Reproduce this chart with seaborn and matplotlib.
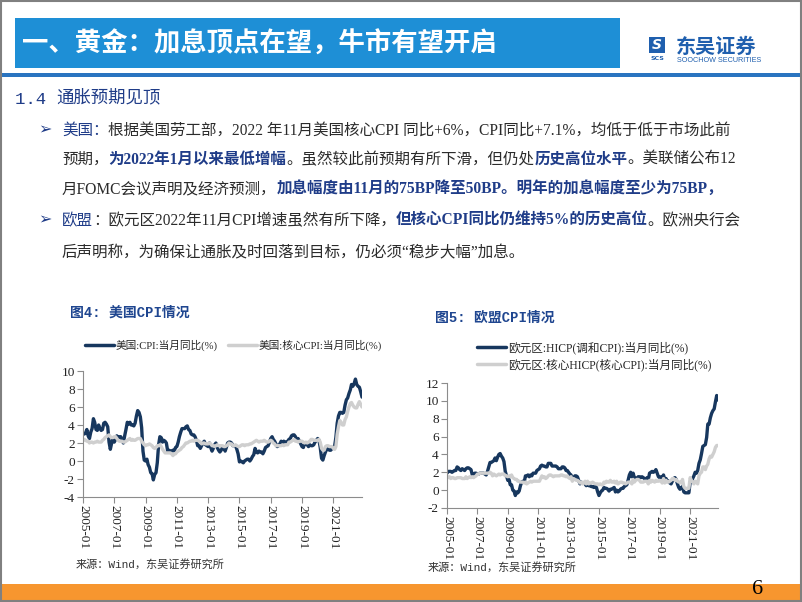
import pandas as pd
import matplotlib
matplotlib.use('Agg')
import matplotlib.pyplot as plt
import matplotlib.dates as mdates
from matplotlib.patches import Rectangle
from matplotlib.lines import Line2D
import seaborn as sns

# ==================== DATA (monthly, 2005-01 .. 2022-11) ====================

us_cpi = [
    3.0, 3.0, 3.1, 3.5, 2.8, 2.5, 3.2, 3.6, 4.7, 4.3, 3.5, 3.4,    # 2005
    4.0, 3.6, 3.4, 3.5, 4.2, 4.3, 4.1, 3.8, 2.1, 1.3, 2.0, 2.5,    # 2006
    2.1, 2.4, 2.8, 2.6, 2.7, 2.7, 2.4, 2.0, 2.8, 3.5, 4.3, 4.1,    # 2007
    4.3, 4.0, 4.0, 3.9, 4.2, 5.0, 5.6, 5.4, 4.9, 3.7, 1.1, 0.1,    # 2008
    0.0, 0.2, -0.4, -0.7, -1.3, -1.4, -2.1, -1.5, -1.3, -0.2, 1.8, 2.7,  # 2009
    2.6, 2.1, 2.3, 2.2, 2.0, 1.1, 1.2, 1.1, 1.1, 1.2, 1.1, 1.5,    # 2010
    1.6, 2.1, 2.7, 3.2, 3.6, 3.6, 3.6, 3.8, 3.9, 3.5, 3.4, 3.0,    # 2011
    2.9, 2.9, 2.7, 2.3, 1.7, 1.7, 1.4, 1.7, 2.0, 2.2, 1.8, 1.7,    # 2012
    1.6, 2.0, 1.5, 1.1, 1.4, 1.8, 2.0, 1.5, 1.2, 1.0, 1.2, 1.5,    # 2013
    1.6, 1.1, 1.5, 2.0, 2.1, 2.1, 2.0, 1.7, 1.7, 1.7, 1.3, 0.8,    # 2014
    -0.1, 0.0, -0.1, -0.2, 0.0, 0.1, 0.2, 0.2, 0.0, 0.2, 0.5, 0.7,  # 2015
    1.4, 1.0, 0.9, 1.1, 1.0, 1.0, 0.8, 1.1, 1.5, 1.6, 1.7, 2.1,    # 2016
    2.5, 2.7, 2.4, 2.2, 1.9, 1.6, 1.7, 1.9, 2.2, 2.0, 2.2, 2.1,    # 2017
    2.1, 2.2, 2.4, 2.5, 2.8, 2.9, 2.9, 2.7, 2.3, 2.5, 2.2, 1.9,    # 2018
    1.6, 1.5, 1.9, 2.0, 1.8, 1.6, 1.8, 1.7, 1.7, 1.8, 2.1, 2.3,    # 2019
    2.5, 2.3, 1.5, 0.3, 0.1, 0.6, 1.0, 1.3, 1.4, 1.2, 1.2, 1.4,    # 2020
    1.4, 1.7, 2.6, 4.2, 5.0, 5.4, 5.4, 5.3, 5.4, 6.2, 6.8, 7.0,    # 2021
    7.5, 7.9, 8.5, 8.3, 8.6, 9.1, 8.5, 8.3, 8.2, 7.7, 7.1,         # 2022
]

us_core_cpi = [
    2.3, 2.4, 2.3, 2.2, 2.2, 2.0, 2.1, 2.1, 2.0, 2.1, 2.1, 2.2,    # 2005
    2.1, 2.1, 2.1, 2.3, 2.4, 2.6, 2.7, 2.8, 2.9, 2.7, 2.6, 2.6,    # 2006
    2.7, 2.7, 2.5, 2.3, 2.2, 2.2, 2.2, 2.1, 2.1, 2.2, 2.3, 2.4,    # 2007
    2.5, 2.3, 2.4, 2.3, 2.3, 2.4, 2.5, 2.5, 2.5, 2.2, 2.0, 1.8,    # 2008
    1.7, 1.8, 1.8, 1.9, 1.8, 1.7, 1.5, 1.4, 1.5, 1.7, 1.7, 1.8,    # 2009
    1.6, 1.3, 1.1, 0.9, 0.9, 0.9, 0.9, 0.9, 0.8, 0.6, 0.8, 0.8,    # 2010
    1.0, 1.1, 1.2, 1.3, 1.5, 1.6, 1.8, 2.0, 2.0, 2.1, 2.2, 2.2,    # 2011
    2.3, 2.2, 2.3, 2.3, 2.3, 2.2, 2.1, 1.9, 2.0, 2.0, 1.9, 1.9,    # 2012
    1.9, 2.0, 1.9, 1.7, 1.7, 1.6, 1.7, 1.8, 1.7, 1.7, 1.7, 1.7,    # 2013
    1.6, 1.6, 1.7, 1.8, 2.0, 1.9, 1.9, 1.7, 1.7, 1.8, 1.7, 1.6,    # 2014
    1.6, 1.7, 1.8, 1.8, 1.7, 1.8, 1.8, 1.8, 1.9, 1.9, 2.0, 2.1,    # 2015
    2.2, 2.3, 2.2, 2.1, 2.2, 2.2, 2.2, 2.3, 2.2, 2.1, 2.1, 2.2,    # 2016
    2.3, 2.2, 2.0, 1.9, 1.7, 1.7, 1.7, 1.7, 1.7, 1.8, 1.7, 1.8,    # 2017
    1.8, 1.8, 2.1, 2.1, 2.2, 2.3, 2.4, 2.2, 2.2, 2.1, 2.2, 2.2,    # 2018
    2.2, 2.1, 2.0, 2.1, 2.0, 2.1, 2.2, 2.4, 2.4, 2.3, 2.3, 2.3,    # 2019
    2.3, 2.4, 2.1, 1.4, 1.2, 1.2, 1.6, 1.7, 1.7, 1.6, 1.6, 1.6,    # 2020
    1.4, 1.3, 1.6, 3.0, 3.8, 4.5, 4.3, 4.0, 4.0, 4.6, 4.9, 5.5,    # 2021
    6.0, 6.4, 6.5, 6.2, 6.0, 5.9, 5.9, 6.3, 6.6, 6.3, 6.0,         # 2022
]

ez_hicp = [
    1.9, 2.1, 2.1, 2.1, 2.0, 2.1, 2.2, 2.2, 2.6, 2.5, 2.3, 2.2,    # 2005
    2.4, 2.3, 2.2, 2.4, 2.5, 2.5, 2.4, 2.3, 1.7, 1.6, 1.9, 1.9,    # 2006
    1.8, 1.8, 1.9, 1.9, 1.9, 1.9, 1.8, 1.7, 2.1, 2.6, 3.1, 3.1,    # 2007
    3.2, 3.3, 3.6, 3.3, 3.7, 4.0, 4.1, 3.8, 3.6, 3.2, 2.1, 1.6,    # 2008
    1.1, 1.2, 0.6, 0.6, 0.0, -0.1, -0.6, -0.2, -0.3, -0.1, 0.5, 0.9,  # 2009
    1.0, 0.9, 1.6, 1.6, 1.7, 1.5, 1.7, 1.6, 1.9, 1.9, 1.9, 2.2,    # 2010
    2.3, 2.4, 2.7, 2.8, 2.7, 2.7, 2.6, 2.6, 3.0, 3.0, 3.0, 2.7,    # 2011
    2.7, 2.7, 2.7, 2.6, 2.4, 2.4, 2.4, 2.6, 2.6, 2.5, 2.2, 2.2,    # 2012
    2.0, 1.8, 1.7, 1.2, 1.4, 1.6, 1.6, 1.5, 1.1, 0.7, 0.9, 0.8,    # 2013
    0.8, 0.7, 0.5, 0.7, 0.5, 0.5, 0.4, 0.4, 0.3, 0.4, 0.3, -0.2,   # 2014
    -0.6, -0.3, -0.1, 0.0, 0.3, 0.2, 0.2, 0.1, -0.1, 0.1, 0.1, 0.2,  # 2015
    0.3, -0.2, 0.0, -0.2, -0.1, 0.1, 0.2, 0.2, 0.4, 0.5, 0.6, 1.1,  # 2016
    1.7, 2.0, 1.5, 1.9, 1.4, 1.3, 1.3, 1.5, 1.5, 1.4, 1.5, 1.4,    # 2017
    1.3, 1.1, 1.4, 1.2, 1.9, 2.0, 2.1, 2.0, 2.1, 2.3, 1.9, 1.5,    # 2018
    1.4, 1.5, 1.4, 1.7, 1.2, 1.3, 1.0, 1.0, 0.8, 0.7, 1.0, 1.3,    # 2019
    1.4, 1.2, 0.7, 0.3, 0.1, 0.3, 0.4, -0.2, -0.3, -0.3, -0.3, -0.3,  # 2020
    0.9, 0.9, 1.3, 1.6, 2.0, 1.9, 2.2, 3.0, 3.4, 4.1, 4.9, 5.0,    # 2021
    5.1, 5.9, 7.4, 7.4, 8.1, 8.6, 8.9, 9.1, 9.9, 10.6, 10.1,       # 2022
]

ez_core_hicp = [
    1.5, 1.4, 1.5, 1.3, 1.4, 1.4, 1.3, 1.3, 1.4, 1.4, 1.4, 1.4,    # 2005
    1.3, 1.3, 1.3, 1.5, 1.3, 1.4, 1.5, 1.4, 1.5, 1.4, 1.5, 1.6,    # 2006
    1.8, 1.8, 1.9, 1.9, 1.9, 1.9, 1.9, 1.9, 1.9, 1.9, 2.0, 1.9,    # 2007
    1.6, 1.8, 1.7, 1.6, 1.7, 1.8, 1.7, 1.8, 1.8, 1.8, 1.6, 1.6,    # 2008
    1.5, 1.6, 1.5, 1.7, 1.4, 1.3, 1.2, 1.2, 1.0, 1.0, 0.9, 0.9,    # 2009
    0.9, 0.8, 0.9, 0.7, 0.8, 0.9, 1.0, 0.9, 1.0, 1.0, 1.0, 1.0,    # 2010
    1.0, 1.0, 1.3, 1.6, 1.4, 1.5, 1.3, 1.4, 1.6, 1.7, 1.7, 1.6,    # 2011
    1.5, 1.6, 1.6, 1.6, 1.6, 1.6, 1.7, 1.7, 1.6, 1.6, 1.5, 1.6,    # 2012
    1.4, 1.3, 1.5, 1.0, 1.3, 1.2, 1.1, 1.1, 1.0, 0.8, 0.9, 0.7,    # 2013
    0.8, 1.0, 0.7, 1.0, 0.7, 0.8, 0.8, 0.9, 0.8, 0.7, 0.7, 0.7,    # 2014
    0.6, 0.7, 0.6, 0.6, 0.9, 0.8, 1.0, 0.9, 0.9, 1.1, 0.9, 0.9,    # 2015
    1.0, 0.8, 1.0, 0.7, 0.8, 0.9, 0.9, 0.8, 0.8, 0.7, 0.8, 0.9,    # 2016
    0.9, 0.9, 0.7, 1.2, 0.9, 1.1, 1.2, 1.2, 1.1, 0.9, 0.9, 0.9,    # 2017
    1.0, 1.0, 1.0, 0.7, 1.1, 0.9, 1.1, 1.0, 0.9, 1.1, 1.0, 1.0,    # 2018
    1.1, 1.0, 0.8, 1.3, 0.8, 1.1, 0.9, 0.9, 1.0, 1.1, 1.3, 1.3,    # 2019
    1.1, 1.2, 1.0, 0.9, 0.9, 0.8, 1.2, 0.4, 0.2, 0.2, 0.2, 0.2,    # 2020
    1.4, 1.1, 0.9, 0.7, 1.0, 0.9, 0.7, 1.6, 1.9, 2.0, 2.6, 2.6,    # 2021
    2.3, 2.7, 2.9, 3.5, 3.8, 3.7, 4.0, 4.3, 4.8, 5.0, 5.0,         # 2022
]

dates = pd.date_range('2005-01-01', periods=len(us_cpi), freq='MS')
tick_years = list(range(2005, 2022, 2))
us_yticks = [-4, -2, 0, 2, 4, 6, 8, 10]
ez_yticks = [-2, 0, 2, 4, 6, 8, 10, 12]

us_labels = ['美国:CPI:当月同比(%)', '美国:核心CPI:当月同比(%)']
ez_labels = ['欧元区:HICP(调和CPI):当月同比(%)', '欧元区:核心HICP(核心CPI):当月同比(%)']

page_title = '一、黄金：加息顶点在望，牛市有望开启'
section_no = '1.4 '
section_title = '通胀预期见顶'
source_text = '来源：Wind，东吴证券研究所'

# ==================== STYLE ====================

NAVY = '#17375E'
LIGHT = '#CFCFCF'
HEADER_BLUE = '#1E8FD6'
LOGO_BLUE = '#1F5FAE'
TEXT_BLUE = '#1F3C88'
TEXT_DARK = '#2B2B2B'
ORANGE = '#F7962F'

sns.set_theme(style='white')
plt.rcParams['font.family'] = ['Liberation Serif', 'Noto Sans CJK SC']
plt.rcParams['axes.unicode_minus'] = False

W, H = 802, 602
fig = plt.figure(figsize=(W / 100, H / 100), dpi=100)

# background axes in pixel coordinates for the slide decoration
bg = fig.add_axes([0, 0, 1, 1], zorder=0)
bg.set_xlim(0, W)
bg.set_ylim(H, 0)
bg.axis('off')

# header
bg.add_patch(Rectangle((15, 18), 605, 50, color=HEADER_BLUE, lw=0))
bg.text(22, 44, page_title, fontsize=19, weight='bold', color='white',
        va='center', family=['Noto Sans CJK SC'])
bg.add_patch(Rectangle((0, 73), W, 4, color='#2A74C0', lw=0))

# logo
bg.add_patch(Rectangle((649, 37), 16, 16, color=LOGO_BLUE, lw=0))
bg.text(657, 45, 'S', fontsize=10, weight='bold', style='italic', color='white',
        ha='center', va='center', family=['DejaVu Sans'])
bg.text(657, 59, 'SCS', fontsize=4.5, weight='bold', color=LOGO_BLUE,
        ha='center', va='center', family=['DejaVu Sans'])
bg.text(676, 46, '东吴证券', fontsize=14.5, weight='bold', color=LOGO_BLUE,
        va='center', family=['Noto Sans CJK SC'])
bg.text(677, 60.5, 'SOOCHOW SECURITIES', fontsize=5.2, color=LOGO_BLUE,
        va='center', family=['Liberation Sans'])

# section heading
t = bg.text(15, 99, section_no, fontsize=12.5, color=TEXT_BLUE, va='center',
            family=['Liberation Mono'])
bg.annotate(section_title, xy=(1, 0), xycoords=t, va='bottom', fontsize=12.5,
            color=TEXT_BLUE, family=['Noto Sans CJK SC'])


def draw_runs(x, y, runs, size=11.2):
    """Draw a line of text made of differently styled pieces."""
    text, color, bold = runs[0]
    t = bg.text(x, y, text, fontsize=size, color=color,
                weight='bold' if bold else 'normal', va='center')
    for text, color, bold in runs[1:]:
        t = bg.annotate(text, xy=(1, 0), xycoords=t, va='bottom',
                        fontsize=size, color=color,
                        weight='bold' if bold else 'normal')


body = [
    (131, [('美国：', TEXT_BLUE, False),
           ('根据美国劳工部，2022 年11月美国核心CPI 同比+6%，CPI同比+7.1%，均低于低于市场此前', TEXT_DARK, False)]),
    (160, [('预期，', TEXT_DARK, False),
           ('为2022年1月以来最低增幅', TEXT_BLUE, True),
           ('。虽然较此前预期有所下滑，但仍处', TEXT_DARK, False),
           ('历史高位水平', TEXT_BLUE, True),
           ('。美联储公布12', TEXT_DARK, False)]),
    (189, [('月FOMC会议声明及经济预测，', TEXT_DARK, False),
           ('加息幅度由11月的75BP降至50BP。明年的加息幅度至少为75BP，', TEXT_BLUE, True)]),
    (221, [('欧盟', TEXT_BLUE, False),
           ('：欧元区2022年11月CPI增速虽然有所下降，', TEXT_DARK, False),
           ('但核心CPI同比仍维持5%的历史高位', TEXT_BLUE, True),
           ('。欧洲央行会', TEXT_DARK, False)]),
    (253, [('后声明称，为确保让通胀及时回落到目标，仍必须“稳步大幅”加息。', TEXT_DARK, False)]),
]
for y, runs in body:
    draw_runs(62, y, runs)
for y in (130, 220):
    bg.text(38, y, '➢', fontsize=11.5, color=TEXT_BLUE, va='center',
            family=['DejaVu Sans'])

# chart titles and sources
bg.text(70, 313, '图4: 美国CPI情况', fontsize=10, weight='bold', color='#1F4690',
        va='center', family=['Liberation Mono', 'Noto Sans CJK SC'])
bg.text(435, 318, '图5: 欧盟CPI情况', fontsize=10, weight='bold', color='#1F4690',
        va='center', family=['Liberation Mono', 'Noto Sans CJK SC'])
bg.text(76, 564, source_text, fontsize=8, color='#333333', va='center',
        family=['Liberation Mono', 'Noto Sans CJK SC'])
bg.text(428, 567, source_text, fontsize=8, color='#333333', va='center',
        family=['Liberation Mono', 'Noto Sans CJK SC'])

# footer
bg.add_patch(Rectangle((0, 584), W, 18, color=ORANGE, lw=0))
bg.text(758, 590, '6', fontsize=16, color='black', ha='center', va='center')
bg.add_patch(Rectangle((0.75, 0.75), W - 1.5, H - 1.5, fill=False,
                       edgecolor='#808080', lw=1.5))

# ==================== CHARTS ====================


def px_axes(x0, x1, y0, y1):
    return fig.add_axes([x0 / W, 1 - y1 / H, (x1 - x0) / W, (y1 - y0) / H], zorder=1)


def draw_chart(ax, main, core, yticks):
    sns.lineplot(x=dates, y=main, ax=ax, color=NAVY, linewidth=2.4)
    sns.lineplot(x=dates, y=core, ax=ax, color=LIGHT, linewidth=2.4)
    ax.set_ylim(yticks[0], yticks[-1])
    ax.set_yticks(yticks)
    ax.set_xlim(dates[0], dates[-1])
    ax.set_xticks([pd.Timestamp(f'{y}-01-01') for y in tick_years])
    ax.xaxis.set_major_formatter(mdates.DateFormatter('%Y-%m'))
    for side in ('top', 'right'):
        ax.spines[side].set_visible(False)
    for side in ('left', 'bottom'):
        ax.spines[side].set_color('#8C8C8C')
        ax.spines[side].set_linewidth(0.8)
    ax.tick_params(axis='both', bottom=True, left=True, direction='out',
                   length=4, width=0.8, color='#8C8C8C', labelsize=9.5,
                   labelcolor='#222222', pad=2)
    ax.tick_params(axis='x', labelrotation=-90)
    ax.set_xlabel('')
    ax.set_ylabel('')
    ax.grid(False)
    ax.patch.set_alpha(0)


handles = [Line2D([], [], color=NAVY, lw=2.5), Line2D([], [], color=LIGHT, lw=2.5)]

ax1 = px_axes(83, 362, 371, 497)
draw_chart(ax1, us_cpi, us_core_cpi, us_yticks)
ax1.legend(handles, us_labels, loc='center left', bbox_to_anchor=(85 / W, 1 - 345 / H),
           bbox_transform=fig.transFigure, ncol=2, frameon=False, fontsize=7.7,
           handlelength=2.7, handletextpad=0.15, columnspacing=1.0,
           borderpad=0, borderaxespad=0)

ax2 = px_axes(447, 718, 383, 508)
draw_chart(ax2, ez_hicp, ez_core_hicp, ez_yticks)
ax2.legend(handles, ez_labels, loc='center left', bbox_to_anchor=(477 / W, 1 - 356.5 / H),
           bbox_transform=fig.transFigure, ncol=1, frameon=False, fontsize=8.4,
           handlelength=2.5, handletextpad=0.2, labelspacing=0.35,
           borderpad=0, borderaxespad=0)

fig.savefig('out.png', dpi=100)
